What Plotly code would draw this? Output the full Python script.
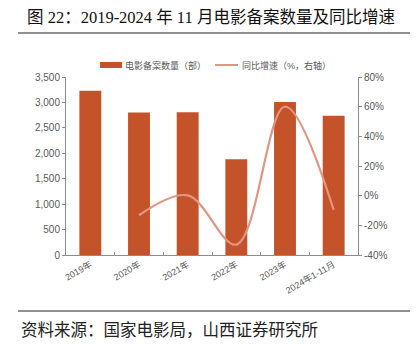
import plotly.graph_objects as go

categories = ["2019年", "2020年", "2021年", "2022年", "2023年", "2024年1-11月"]
films = [3231, 2800, 2805, 1885, 3010, 2740]
growth_cats = ["2020年", "2021年", "2022年", "2023年", "2024年1-11月"]
growth = [-13.2, 0.2, -33.0, 60.0, -9.6]
left_ticks = [0, 500, 1000, 1500, 2000, 2500, 3000, 3500]
right_ticks = [-40, -20, 0, 20, 40, 60, 80]
right_labels = ["-40%", "-20%", "0%", "20%", "40%", "60%", "80%"]

W, H = 418, 346
L, R, T, B = 66, 358, 77, 255

def px(x):
    return (x - L) / (R - L)

def py(y):
    return (B - y) / (B - T)

BAR = "#C4532A"
LINE = "#E29582"
TXT = "#595959"
CJK = "Arial, 'Liberation Sans', 'Noto Sans CJK SC'"

fig = go.Figure()
fig.add_trace(go.Bar(x=categories, y=films, marker=dict(color=BAR, line=dict(width=0)),
                     name="电影备案数量（部）", showlegend=False))
fig.add_trace(go.Scatter(x=growth_cats, y=growth, mode="lines", yaxis="y2",
                         line=dict(color=LINE, width=2.2, shape="spline", smoothing=1.0),
                         name="同比增速（%，右轴）", showlegend=False))

shapes = [
    dict(type="line", xref="paper", yref="paper", x0=px(18), x1=px(410), y0=py(33), y1=py(33),
         line=dict(color="#6b6b6b", width=1.5)),
    dict(type="line", xref="paper", yref="paper", x0=px(18), x1=px(410), y0=py(311), y1=py(311),
         line=dict(color="#6b6b6b", width=1.5)),
    dict(type="rect", xref="paper", yref="paper", x0=px(100), x1=px(122), y0=py(68), y1=py(62),
         fillcolor=BAR, line=dict(width=0)),
    dict(type="line", xref="paper", yref="paper", x0=px(215), x1=px(238), y0=py(65), y1=py(65),
         line=dict(color=LINE, width=2)),
]
annotations = [
    dict(text="电影备案数量（部）", xref="paper", yref="paper", x=px(123), y=py(65),
         xanchor="left", yanchor="middle", showarrow=False, font=dict(size=9, color=TXT, family=CJK)),
    dict(text="同比增速（%，右轴）", xref="paper", yref="paper", x=px(240), y=py(65),
         xanchor="left", yanchor="middle", showarrow=False, font=dict(size=9, color=TXT, family=CJK)),
    dict(text="资料来源：国家电影局，山西证券研究所", xref="paper", yref="paper", x=px(19), y=py(329),
         xanchor="left", yanchor="middle", showarrow=False,
         font=dict(size=16.5, color="#222222", family="'Noto Sans CJK SC'")),
]

fig.update_layout(
    width=W, height=H,
    margin=dict(l=L, r=W - R, t=T, b=H - B, pad=0),
    paper_bgcolor="white", plot_bgcolor="white",
    title=dict(text="图 22：2019-2024 年 11 月电影备案数量及同比增速",
               xref="container", yref="container", x=27 / W, y=1 - 17 / H,
               xanchor="left", yanchor="middle",
               font=dict(size=16.5, color="#111111", family="'Liberation Serif', 'Noto Sans CJK SC'")),
    bargap=0.55,
    showlegend=False,
    shapes=shapes,
    annotations=annotations,
    xaxis=dict(type="category", categoryorder="array", categoryarray=categories,
               showline=True, linecolor="#8c8c8c", linewidth=1,
               ticks="inside", tickson="boundaries", ticklen=3, tickcolor="#8c8c8c",
               tickangle=-30, tickfont=dict(size=9, color=TXT, family=CJK), showgrid=False),
    yaxis=dict(range=[0, 3500], tickvals=left_ticks, tickformat=",", showline=True,
               linecolor="#8c8c8c", linewidth=1, ticks="outside", ticklen=3, tickcolor="#8c8c8c",
               showgrid=False, zeroline=False, tickfont=dict(size=10, color=TXT, family=CJK)),
    yaxis2=dict(range=[-40, 80], tickvals=right_ticks, ticktext=right_labels, overlaying="y", side="right",
                showline=True, linecolor="#8c8c8c", linewidth=1, ticks="outside", ticklen=3,
                tickcolor="#8c8c8c", showgrid=False, zeroline=False,
                tickfont=dict(size=10, color=TXT, family=CJK)),
)

fig.write_html("out.html")
